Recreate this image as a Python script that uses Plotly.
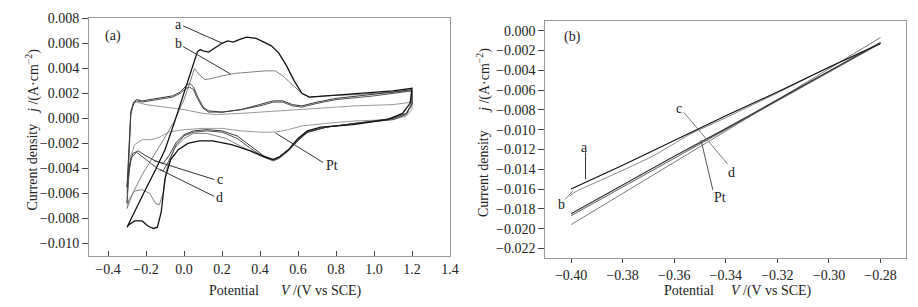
import plotly.graph_objects as go

# ---------------- Panel (a): cyclic voltammograms ----------------
a_x = [-0.30, -0.25, -0.20, -0.15, -0.10, -0.05, 0.00, 0.04, 0.07, 0.085, 0.10, 0.13, 0.16, 0.20, 0.23, 0.26, 0.29, 0.33, 0.38, 0.42, 0.46, 0.50, 0.54, 0.58, 0.62, 0.66, 0.75, 0.85, 1.00, 1.10, 1.20,
       1.20, 1.19, 1.15, 1.07, 0.89, 0.72, 0.65, 0.60, 0.55, 0.50, 0.47, 0.43, 0.35, 0.25, 0.15, 0.08, 0.02, -0.03, -0.07, -0.10, -0.12, -0.14, -0.16, -0.19, -0.22, -0.26, -0.29, -0.30]
a_y = [-0.0087, -0.0071, -0.0056, -0.0041, -0.0025, -0.0003, 0.0021, 0.0040, 0.0053, 0.0055, 0.0054, 0.0053, 0.0056, 0.0060, 0.0062, 0.0061, 0.0063, 0.0065, 0.0064, 0.0061, 0.0058, 0.0052, 0.0042, 0.0030, 0.0020, 0.0017, 0.0018, 0.0019, 0.0021, 0.0022, 0.0024,
       0.0024, 0.0012, 0.0004, -0.0001, -0.0005, -0.0007, -0.0010, -0.0016, -0.0025, -0.0031, -0.0033, -0.0031, -0.0026, -0.0021, -0.0018, -0.0018, -0.0020, -0.0025, -0.0033, -0.0048, -0.0075, -0.0087, -0.0088, -0.0086, -0.0082, -0.0082, -0.0085, -0.0087]

b_x = [-0.30, -0.27, -0.22, -0.15, -0.10, -0.05, 0.00, 0.03, 0.055, 0.08, 0.11, 0.15, 0.20, 0.27, 0.35, 0.43, 0.48, 0.52, 0.57, 0.62, 0.66, 0.75, 0.90, 1.00, 1.10, 1.20,
       1.20, 1.17, 1.10, 0.90, 0.75, 0.65, 0.60, 0.55, 0.50, 0.46, 0.40, 0.32, 0.22, 0.12, 0.05, 0.00, -0.05, -0.09, -0.11, -0.13, -0.15, -0.18, -0.22, -0.26, -0.29, -0.30]
b_y = [-0.0072, -0.0060, -0.0045, -0.0028, -0.0015, -0.0002, 0.0015, 0.0028, 0.0040, 0.0035, 0.0031, 0.0032, 0.0034, 0.0036, 0.0037, 0.0038, 0.0038, 0.0034, 0.0027, 0.0020, 0.0017, 0.0018, 0.0019, 0.0020, 0.0021, 0.0022,
       0.0012, 0.0004, 0.0000, -0.0004, -0.0007, -0.0011, -0.0017, -0.0025, -0.0031, -0.0033, -0.0030, -0.0024, -0.0016, -0.0012, -0.0012, -0.0016, -0.0024, -0.0040, -0.0060, -0.0069, -0.0068, -0.0060, -0.0057, -0.0058, -0.0065, -0.0072]

c_x = [-0.30, -0.29, -0.28, -0.265, -0.25, -0.22, -0.18, -0.12, -0.06, -0.02, 0.01, 0.03, 0.05, 0.07, 0.10, 0.13, 0.20, 0.30, 0.40, 0.47, 0.52, 0.57, 0.62, 0.70, 0.80, 1.00, 1.10, 1.20,
       1.20, 1.17, 1.10, 0.90, 0.75, 0.65, 0.60, 0.55, 0.50, 0.47, 0.42, 0.35, 0.28, 0.20, 0.12, 0.05, 0.00, -0.04, -0.08, -0.11, -0.15, -0.20, -0.24, -0.27, -0.29, -0.30]
c_y = [-0.0055, -0.0020, 0.0005, 0.0013, 0.0015, 0.0014, 0.0015, 0.0016, 0.0018, 0.0021, 0.0026, 0.0028, 0.0025, 0.0018, 0.0009, 0.0006, 0.0005, 0.0007, 0.0011, 0.0014, 0.0014, 0.0011, 0.0010, 0.0013, 0.0016, 0.0019, 0.0021, 0.0023,
       0.0012, 0.0004, 0.0000, -0.0004, -0.0007, -0.0011, -0.0017, -0.0025, -0.0031, -0.0033, -0.0030, -0.0022, -0.0014, -0.0010, -0.0009, -0.0010, -0.0013, -0.0019, -0.0030, -0.0036, -0.0034, -0.0030, -0.0026, -0.0028, -0.0040, -0.0055]

d_x = [-0.30, -0.29, -0.28, -0.265, -0.25, -0.22, -0.18, -0.12, -0.06, -0.02, 0.01, 0.03, 0.05, 0.07, 0.10, 0.13, 0.20, 0.30, 0.40, 0.47, 0.52, 0.57, 0.62, 0.70, 0.80, 1.00, 1.10, 1.20,
       1.20, 1.17, 1.10, 0.90, 0.75, 0.65, 0.60, 0.55, 0.50, 0.47, 0.42, 0.35, 0.28, 0.20, 0.12, 0.05, 0.00, -0.04, -0.08, -0.11, -0.14, -0.18, -0.22, -0.25, -0.28, -0.29, -0.30]
d_y = [-0.0068, -0.0030, 0.0003, 0.0012, 0.0014, 0.0013, 0.0014, 0.0015, 0.0017, 0.0020, 0.0024, 0.0025, 0.0023, 0.0016, 0.0008, 0.0005, 0.0005, 0.0007, 0.0010, 0.0013, 0.0013, 0.0010, 0.0009, 0.0012, 0.0015, 0.0018, 0.0020, 0.0022,
       0.0011, 0.0003, -0.0001, -0.0004, -0.0007, -0.0011, -0.0018, -0.0026, -0.0032, -0.0034, -0.0031, -0.0024, -0.0016, -0.0011, -0.0010, -0.0011, -0.0014, -0.0021, -0.0034, -0.0042, -0.0040, -0.0035, -0.0030, -0.0027, -0.0032, -0.0045, -0.0068]

pt_x = [-0.30, -0.29, -0.28, -0.265, -0.25, -0.20, -0.10, 0.00, 0.10, 0.17, 0.30, 0.50, 0.70, 0.90, 1.10, 1.20,
        1.20, 1.17, 1.10, 0.90, 0.75, 0.62, 0.55, 0.48, 0.40, 0.30, 0.20, 0.10, 0.00, -0.08, -0.13, -0.17, -0.22, -0.26, -0.28, -0.30]
pt_y = [-0.0060, -0.0020, 0.0006, 0.0012, 0.0013, 0.0011, 0.0009, 0.0007, 0.0004, 0.0003, 0.0004, 0.0006, 0.0008, 0.0010, 0.0011, 0.0013,
        0.0007, 0.0002, -0.0001, -0.0002, -0.0004, -0.0006, -0.0009, -0.0011, -0.0011, -0.0010, -0.0008, -0.0008, -0.0009, -0.0011, -0.0015, -0.0017, -0.0017, -0.0021, -0.0030, -0.0060]

# ---------------- Panel (b): cathodic polarization ----------------
lin_x = [-0.40, -0.38, -0.36, -0.34, -0.32, -0.30, -0.28]
lin_a = [-0.0160, -0.0136, -0.0111, -0.0086, -0.0062, -0.0037, -0.0013]
lin_b_x = [-0.4005, -0.399, -0.397, -0.39, -0.381, -0.379, -0.37, -0.3664, -0.3535, -0.34, -0.32, -0.30, -0.28]
lin_b = [-0.0167, -0.0164, -0.0161, -0.0153, -0.0142, -0.0140, -0.0129, -0.0124, -0.0104, -0.0088, -0.0063, -0.0037, -0.0013]
lin_c = [-0.0185, -0.0156, -0.0127, -0.0099, -0.0070, -0.0041, -0.0012]
lin_d = [-0.0187, -0.0158, -0.0129, -0.0100, -0.0071, -0.0042, -0.0013]
lin_pt = [-0.0196, -0.01645, -0.0133, -0.01015, -0.0070, -0.00385, -0.0007]

FONT = "Liberation Serif"
TXT = "#222222"

fig = go.Figure()

def add(x, y, color, width, xa, ya, name):
    fig.add_trace(go.Scatter(x=x, y=y, mode="lines", name=name,
                             line=dict(color=color, width=width),
                             xaxis=xa, yaxis=ya, showlegend=False, hoverinfo="skip"))

add(pt_x, pt_y, "#9a9a9a", 1.0, "x", "y", "Pt")
add(b_x, b_y, "#808080", 1.0, "x", "y", "b")
add(d_x, d_y, "#505050", 1.0, "x", "y", "d")
add(c_x, c_y, "#3a3a3a", 1.0, "x", "y", "c")
add(a_x, a_y, "#111111", 1.3, "x", "y", "a")

add(lin_x, lin_pt, "#7a7a7a", 1.0, "x2", "y2", "Pt")
add(lin_x, lin_d, "#606060", 1.0, "x2", "y2", "d")
add(lin_x, lin_c, "#333333", 1.2, "x2", "y2", "c")
add(lin_b_x, lin_b, "#8a8a8a", 1.0, "x2", "y2", "b")
add(lin_x, lin_a, "#111111", 1.2, "x2", "y2", "a")

W, H = 918, 307
axis_common = dict(showgrid=False, zeroline=False, showline=True, mirror=True, automargin=False,
                   linecolor="#999999", linewidth=1, ticks="outside", tickcolor="#444444",
                   ticklen=6, tickwidth=1, tickfont=dict(family=FONT, size=14, color=TXT))

fig.update_layout(
    width=W, height=H, margin=dict(l=0, r=0, t=0, b=0),
    paper_bgcolor="white", plot_bgcolor="white",
    xaxis=dict(axis_common, domain=[89 / W, 450 / W], range=[-0.5, 1.4], dtick=0.2, tick0=0,
               tickformat=".1f", anchor="y", ticks="inside", ticklen=5),
    yaxis=dict(axis_common, domain=[1 - 256 / H, 1 - 18.3 / H], range=[-0.011, 0.008],
               dtick=0.002, tick0=0, tickformat=".3f", anchor="x"),
    xaxis2=dict(axis_common, domain=[545.3 / W, 906.3 / W], range=[-0.41, -0.27], dtick=0.02,
                tick0=-0.4, tickformat=".2f", anchor="y2", ticklen=4),
    yaxis2=dict(axis_common, domain=[1 - 258.3 / H, 1 - 20.7 / H], range=[-0.023, 0.001],
                dtick=0.002, tick0=0, tickformat=".3f", anchor="x2"),
)

ann = []
def txt(x, y, t, xref="paper", yref="paper", size=14, angle=0):
    ann.append(dict(x=x, y=y, xref=xref, yref=yref, text=t, showarrow=False,
                    textangle=angle, font=dict(family=FONT, size=size, color=TXT),
                    xanchor="center", yanchor="middle"))

# axis titles (two parts each, as in the reference)
txt(32 / W, 1 - 167.5 / H, "Current density", angle=-90, size=14)
txt(32 / W, 1 - 82 / H, "<i>j</i> /(A·cm<sup>−2</sup>)", angle=-90, size=14)
txt(234 / W, 1 - 290.5 / H, "Potential", size=14)
txt(321.5 / W, 1 - 290.5 / H, "<i>V</i> /(V vs SCE)", size=14)
txt(483 / W, 1 - 174 / H, "Current density", angle=-90, size=14)
txt(483 / W, 1 - 81 / H, "<i>j</i> /(A·cm<sup>−2</sup>)", angle=-90, size=14)
txt(689 / W, 1 - 290.5 / H, "Potential", size=14)
txt(771 / W, 1 - 290.5 / H, "<i>V</i> /(V vs SCE)", size=14)

# panel labels (a)
txt(-0.375, 0.00659, "(a)", "x", "y")
txt(-0.0305, 0.00747, "a", "x", "y")
txt(-0.0305, 0.00601, "b", "x", "y")
txt(0.188, -0.00489, "c", "x", "y")
txt(0.188, -0.0063, "d", "x", "y")
txt(0.778, -0.00375, "Pt", "x", "y")

# panel labels (b)
txt(-0.3993, -0.0006, "(b)", "x2", "y2")
txt(-0.3948, -0.01176, "a", "x2", "y2")
txt(-0.4036, -0.01753, "b", "x2", "y2")
txt(-0.3583, -0.00789, "c", "x2", "y2")
txt(-0.3378, -0.01431, "d", "x2", "y2")
txt(-0.3424, -0.01683, "Pt", "x2", "y2")
fig.update_layout(annotations=ann)

shapes = []
def lead(x0, y0, x1, y1, xr, yr, color="#333333"):
    shapes.append(dict(type="line", x0=x0, y0=y0, x1=x1, y1=y1, xref=xr, yref=yr,
                       line=dict(color=color, width=1)))

lead(-0.0042, 0.00739, 0.2005, 0.00601, "x", "y")
lead(-0.0042, 0.00574, 0.244, 0.00356, "x", "y")
lead(0.16, -0.00489, -0.1585, -0.00337, "x", "y")
lead(0.16, -0.00624, -0.127, -0.00409, "x", "y")
lead(0.732, -0.00353, 0.482, -0.00117, "x", "y")

lead(-0.3944, -0.0123, -0.3944, -0.0150, "x2", "y2")
lead(-0.4023, -0.01706, -0.3993, -0.0162, "x2", "y2", "#777777")
lead(-0.3563, -0.00826, -0.3392, -0.0135, "x2", "y2", "#777777")
lead(-0.3450, -0.01612, -0.3496, -0.01108, "x2", "y2", "#555555")
fig.update_layout(shapes=shapes)

fig.write_html("out.html", config={"displayModeBar": False},
               post_script="document.body.style.margin='0';document.body.style.padding='0';"
                           "document.documentElement.style.overflow='hidden';")
